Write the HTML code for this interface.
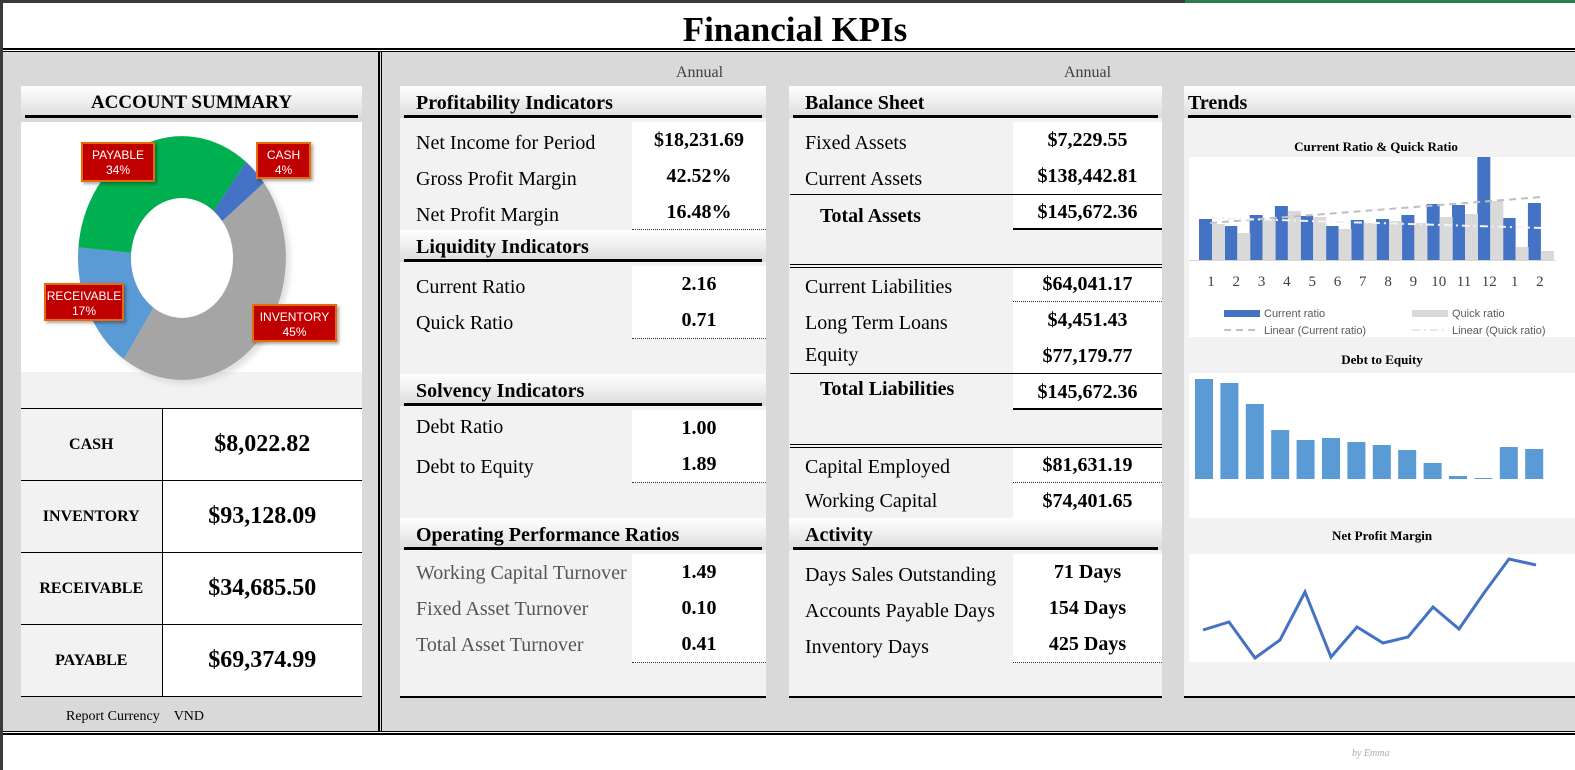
<!DOCTYPE html>
<html><head><meta charset="utf-8"><style>
*{margin:0;padding:0;box-sizing:border-box}
body{width:1575px;height:770px;position:relative;background:#fff;font-family:"Liberation Serif",serif;overflow:hidden;color:#000}
.a{position:absolute}
.hd{position:absolute;height:32px;background:linear-gradient(#fff,#dcdcdc);font-weight:bold;font-size:20px;line-height:34px;padding-left:16px}
.hd:after{content:"";position:absolute;left:4px;right:4px;bottom:0;height:3px;background:#000}
.lb{position:absolute;font-size:20px;line-height:36px;padding-left:16px;padding-top:3px}
.v{position:absolute;background:#fff;font-weight:bold;font-size:20px;line-height:36px;text-align:center;border-bottom:1px dotted #333}
.g{color:#555}
.tag{position:absolute;background:#c00000;border:2px solid #e46c0a;color:#fff;font-family:"Liberation Sans",sans-serif;font-size:12px;line-height:15px;text-align:center;padding-top:4px;box-shadow:2px 2px 3px rgba(0,0,0,.35)}
.st td{border:1px solid #000}
</style></head><body>
<div class="a" style="left:0;top:0;width:1575px;height:3px;background:#3a3a3a"></div>
<div class="a" style="left:1185px;top:0;width:390px;height:3px;background:#2e7d4f"></div>
<div class="a" style="left:0;top:0;width:3px;height:770px;background:#3a3a3a"></div>
<div class="a" style="left:0;top:8px;width:1575px;text-align:center;font-weight:bold;font-size:35px;line-height:44px;padding-left:15px">Financial KPIs</div>
<div class="a" style="left:3px;top:48px;width:1572px;height:4px;border-top:2px solid #000;border-bottom:1px solid #000"></div>
<div class="a" style="left:3px;top:52px;width:1572px;height:679px;background:#d9d9d9"></div>
<div class="a" style="left:3px;top:731px;width:1572px;height:4px;border-top:1px solid #000;border-bottom:2px solid #000"></div>
<div class="a" style="left:378px;top:52px;width:4px;height:679px;border-left:2px solid #000;border-right:1px solid #000"></div>

<!-- LEFT -->
<div class="hd" style="left:21px;top:86px;width:341px;text-align:center;padding-left:0;font-size:19px">ACCOUNT SUMMARY</div>
<div class="a" style="left:21px;top:122px;width:341px;height:250px;background:#fff"></div>
<div class="a" style="left:21px;top:372px;width:341px;height:36px;background:#f2f2f2"></div>
<svg class="a" style="left:0;top:0" width="380" height="400">
<defs><filter id="sh"><feGaussianBlur stdDeviation="3"/></filter></defs>
<ellipse cx="186" cy="262" rx="104" ry="122" fill="#ccc" filter="url(#sh)" opacity=".6"/>
<g transform="translate(182,258) scale(1,1.173)">
<path d="M64,-81.9 A104,104 0 0 1 81.9,-64 L40.2,-31.4 A51,51 0 0 0 31.4,-40.2Z" fill="#4472c4"/>
<path d="M81.9,-64 A104,104 0 0 1 -58.2,86.2 L-28.5,42.3 A51,51 0 0 0 40.2,-31.4Z" fill="#a5a5a5"/>
<path d="M-58.2,86.2 A104,104 0 0 1 -103.6,-9.1 L-50.8,-4.4 A51,51 0 0 0 -28.5,42.3Z" fill="#5b9bd5"/>
<path d="M-103.6,-9.1 A104,104 0 0 1 64,-81.9 L31.4,-40.2 A51,51 0 0 0 -50.8,-4.4Z" fill="#00b050"/>
<ellipse cx="0" cy="0" rx="51" ry="51" fill="#fff"/>
</g></svg>
<div class="tag" style="left:81px;top:142px;width:74px;height:40px">PAYABLE<br>34%</div>
<div class="tag" style="left:256px;top:142px;width:55px;height:37px">CASH<br>4%</div>
<div class="tag" style="left:44px;top:283px;width:80px;height:38px">RECEIVABLE<br>17%</div>
<div class="tag" style="left:252px;top:304px;width:85px;height:38px">INVENTORY<br>45%</div>
<table class="a st" style="left:21px;top:408px;width:341px;border-collapse:collapse;border-left:none">
<tr style="height:72px"><td style="width:141px;background:#f2f2f2;text-align:center;font-weight:bold;font-size:16px;border-left:none">CASH</td><td style="background:#fff;text-align:center;font-weight:bold;font-size:24px;border-right:none">$8,022.82</td></tr>
<tr style="height:72px"><td style="background:#f2f2f2;text-align:center;font-weight:bold;font-size:16px;border-left:none">INVENTORY</td><td style="background:#fff;text-align:center;font-weight:bold;font-size:24px;border-right:none">$93,128.09</td></tr>
<tr style="height:72px"><td style="background:#f2f2f2;text-align:center;font-weight:bold;font-size:16px;border-left:none">RECEIVABLE</td><td style="background:#fff;text-align:center;font-weight:bold;font-size:24px;border-right:none">$34,685.50</td></tr>
<tr style="height:72px"><td style="background:#f2f2f2;text-align:center;font-weight:bold;font-size:16px;border-left:none">PAYABLE</td><td style="background:#fff;text-align:center;font-weight:bold;font-size:24px;border-right:none">$69,374.99</td></tr>
</table>
<div class="a" style="left:66px;top:709px;font-size:14px">Report Currency&nbsp;&nbsp;&nbsp;&nbsp;VND</div>

<!-- MIDDLE 1 -->
<div class="a" style="left:676px;top:64px;font-size:16px;color:#404040">Annual</div>
<div class="a" style="left:1064px;top:64px;font-size:16px;color:#404040">Annual</div>
<div class="a" style="left:400px;top:118px;width:366px;height:580px;background:#f2f2f2;border-bottom:2px solid #000"></div>
<div class="hd" style="left:400px;top:86px;width:366px">Profitability Indicators</div>
<div class="lb" style="left:400px;top:122px">Net Income for Period</div><div class="v" style="left:632px;top:122px;width:134px">$18,231.69</div>
<div class="lb" style="left:400px;top:158px">Gross Profit Margin</div><div class="v" style="left:632px;top:158px;width:134px">42.52%</div>
<div class="lb" style="left:400px;top:194px">Net Profit Margin</div><div class="v" style="left:632px;top:194px;width:134px;height:36px">16.48%</div>
<div class="hd" style="left:400px;top:230px;width:366px">Liquidity Indicators</div>
<div class="lb" style="left:400px;top:266px">Current Ratio</div><div class="v" style="left:632px;top:266px;width:134px">2.16</div>
<div class="lb" style="left:400px;top:302px">Quick Ratio</div><div class="v" style="left:632px;top:302px;width:134px">0.71</div>
<div class="hd" style="left:400px;top:374px;width:366px">Solvency Indicators</div>
<div class="lb" style="left:400px;top:406px">Debt Ratio</div><div class="v" style="left:632px;top:410px;width:134px">1.00</div>
<div class="lb" style="left:400px;top:446px">Debt to Equity</div><div class="v" style="left:632px;top:446px;width:134px">1.89</div>
<div class="hd" style="left:400px;top:518px;width:366px">Operating Performance Ratios</div>
<div class="lb g" style="left:400px;top:552px">Working Capital Turnover</div><div class="v" style="left:632px;top:554px;width:134px">1.49</div>
<div class="lb g" style="left:400px;top:588px">Fixed Asset Turnover</div><div class="v" style="left:632px;top:590px;width:134px">0.10</div>
<div class="lb g" style="left:400px;top:624px">Total Asset Turnover</div><div class="v" style="left:632px;top:626px;width:134px">0.41</div>

<!-- MIDDLE 2 -->
<div class="a" style="left:789px;top:118px;width:373px;height:580px;background:#f2f2f2;border-bottom:2px solid #000"></div>
<div class="hd" style="left:789px;top:86px;width:373px">Balance Sheet</div>
<div class="lb" style="left:789px;top:122px">Fixed Assets</div><div class="v" style="left:1013px;top:122px;width:149px">$7,229.55</div>
<div class="lb" style="left:789px;top:158px">Current Assets</div><div class="v" style="left:1013px;top:158px;width:149px;border-bottom:none">$138,442.81</div>
<div class="a" style="left:790px;top:194px;width:372px;height:1px;background:#000"></div>
<div class="lb" style="left:789px;top:195px;font-weight:bold;padding-left:31px">Total Assets</div><div class="v" style="left:1013px;top:195px;width:149px;height:35px;border-bottom:2px solid #000;line-height:34px">$145,672.36</div>
<div class="a" style="left:790px;top:264px;width:372px;height:4px;border-top:1px solid #000;border-bottom:1px solid #000"></div>
<div class="lb" style="left:789px;top:266px">Current Liabilities</div><div class="v" style="left:1013px;top:268px;width:149px;height:34px;line-height:32px">$64,041.17</div>
<div class="lb" style="left:789px;top:302px">Long Term Loans</div><div class="v" style="left:1013px;top:302px;width:149px">$4,451.43</div>
<div class="lb" style="left:789px;top:334px">Equity</div><div class="v" style="left:1013px;top:338px;width:149px;border-bottom:none">$77,179.77</div>
<div class="a" style="left:790px;top:373px;width:372px;height:1px;background:#000"></div>
<div class="lb" style="left:789px;top:368px;font-weight:bold;padding-left:31px">Total Liabilities</div><div class="v" style="left:1013px;top:374px;width:149px;height:36px;border-bottom:2px solid #000">$145,672.36</div>
<div class="a" style="left:790px;top:444px;width:372px;height:4px;border-top:1px solid #000;border-bottom:1px solid #000"></div>
<div class="lb" style="left:789px;top:446px">Capital Employed</div><div class="v" style="left:1013px;top:448px;width:149px;height:35px;line-height:34px">$81,631.19</div>
<div class="lb" style="left:789px;top:480px">Working Capital</div><div class="v" style="left:1013px;top:483px;width:149px;height:36px">$74,401.65</div>
<div class="hd" style="left:789px;top:518px;width:373px">Activity</div>
<div class="lb" style="left:789px;top:554px">Days Sales Outstanding</div><div class="v" style="left:1013px;top:554px;width:149px">71 Days</div>
<div class="lb" style="left:789px;top:590px">Accounts Payable Days</div><div class="v" style="left:1013px;top:590px;width:149px">154 Days</div>
<div class="lb" style="left:789px;top:626px">Inventory Days</div><div class="v" style="left:1013px;top:626px;width:149px">425 Days</div>

<!-- TRENDS -->
<div class="a" style="left:1184px;top:118px;width:391px;height:580px;background:#f2f2f2;border-bottom:2px solid #000"></div>
<div class="hd" style="left:1184px;top:86px;width:391px;padding-left:4px">Trends</div>
<svg class="a" style="left:0;top:0" width="1575" height="700" font-family="Liberation Serif">
<text x="1376" y="151" text-anchor="middle" font-size="13" font-weight="bold">Current Ratio &amp; Quick Ratio</text>
<rect x="1189" y="157" width="386" height="180" fill="#fff"/>
<g id="b"></g>
<g fill="#4472c4">
<rect x="1199" y="219" width="13" height="41"/><rect x="1224.3" y="226" width="13" height="34"/><rect x="1249.6" y="215" width="13" height="45"/><rect x="1274.9" y="206" width="13" height="54"/><rect x="1300.2" y="216" width="13" height="44"/><rect x="1325.5" y="226" width="13" height="34"/><rect x="1350.8" y="220" width="13" height="40"/><rect x="1376.1" y="219" width="13" height="41"/><rect x="1401.4" y="215" width="13" height="45"/><rect x="1426.7" y="204" width="13" height="56"/><rect x="1452" y="205" width="13" height="55"/><rect x="1477.3" y="157" width="13" height="103"/><rect x="1502.6" y="218" width="13" height="42"/><rect x="1527.9" y="203" width="13" height="57"/>
</g>
<g fill="#d9d9d9">
<rect x="1212" y="224" width="13" height="36"/><rect x="1237.3" y="233" width="13" height="27"/><rect x="1262.6" y="219" width="13" height="41"/><rect x="1287.9" y="211" width="13" height="49"/><rect x="1313.2" y="217" width="13" height="43"/><rect x="1338.5" y="229" width="13" height="31"/><rect x="1363.8" y="223" width="13" height="37"/><rect x="1389.1" y="221" width="13" height="39"/><rect x="1414.4" y="223" width="13" height="37"/><rect x="1439.7" y="217" width="13" height="43"/><rect x="1465" y="214" width="13" height="46"/><rect x="1490.3" y="201" width="13" height="59"/><rect x="1515.6" y="247" width="13" height="13"/><rect x="1540.9" y="251" width="13" height="9"/>
</g>
<line x1="1189" y1="260.5" x2="1556" y2="260.5" stroke="#d9d9d9"/>
<line x1="1210" y1="223" x2="1542" y2="197" stroke="#bfbfbf" stroke-width="2" stroke-dasharray="7,5"/>
<line x1="1210" y1="218" x2="1542" y2="228" stroke="#f2f2f2" stroke-width="2" stroke-dasharray="8,4,2,4"/>
<g font-size="15" fill="#404040" text-anchor="middle">
<text x="1211" y="286">1</text><text x="1236.3" y="286">2</text><text x="1261.6" y="286">3</text><text x="1286.9" y="286">4</text><text x="1312.2" y="286">5</text><text x="1337.5" y="286">6</text><text x="1362.8" y="286">7</text><text x="1388.1" y="286">8</text><text x="1413.4" y="286">9</text><text x="1438.7" y="286">10</text><text x="1464" y="286">11</text><text x="1489.3" y="286">12</text><text x="1514.6" y="286">1</text><text x="1539.9" y="286">2</text>
</g>
<g font-family="Liberation Sans" font-size="11" fill="#595959">
<rect x="1224" y="310" width="36" height="7" fill="#4472c4"/><text x="1264" y="317">Current ratio</text>
<rect x="1412" y="310" width="36" height="7" fill="#d9d9d9"/><text x="1452" y="317">Quick ratio</text>
<line x1="1224" y1="330" x2="1260" y2="330" stroke="#bfbfbf" stroke-width="2" stroke-dasharray="7,5"/><text x="1264" y="334">Linear (Current ratio)</text>
<line x1="1412" y1="330" x2="1448" y2="330" stroke="#e8e8e8" stroke-width="2" stroke-dasharray="8,4,2,4"/><text x="1452" y="334">Linear (Quick ratio)</text>
</g>
<text x="1382" y="364" text-anchor="middle" font-size="13" font-weight="bold">Debt to Equity</text>
<rect x="1189" y="373" width="386" height="145" fill="#fff"/>
<g fill="#5b9bd5">
<rect x="1195" y="379" width="18" height="100"/><rect x="1220.4" y="383" width="18" height="96"/><rect x="1245.8" y="404" width="18" height="75"/><rect x="1271.2" y="430" width="18" height="49"/><rect x="1296.6" y="440" width="18" height="39"/><rect x="1322" y="438" width="18" height="41"/><rect x="1347.4" y="442" width="18" height="37"/><rect x="1372.8" y="445" width="18" height="34"/><rect x="1398.2" y="450" width="18" height="29"/><rect x="1423.6" y="463" width="18" height="16"/><rect x="1449" y="476" width="18" height="3"/><rect x="1474.4" y="478" width="18" height="1"/><rect x="1499.8" y="447" width="18" height="32"/><rect x="1525.2" y="449" width="18" height="30"/>
</g>
<text x="1382" y="540" text-anchor="middle" font-size="13" font-weight="bold">Net Profit Margin</text>
<rect x="1189" y="554" width="386" height="108" fill="#fff"/>
<polyline fill="none" stroke="#4472c4" stroke-width="3" points="1203,630 1229,622 1255,658 1280,640 1305,592 1331,657 1357,627 1383,643 1408,637 1433,607 1459,629 1484,593 1509,559 1536,565"/>
</svg>
<div class="a" style="left:1352px;top:748px;font-size:10px;font-style:italic;color:#aaa">by Emma</div>
</body></html>
